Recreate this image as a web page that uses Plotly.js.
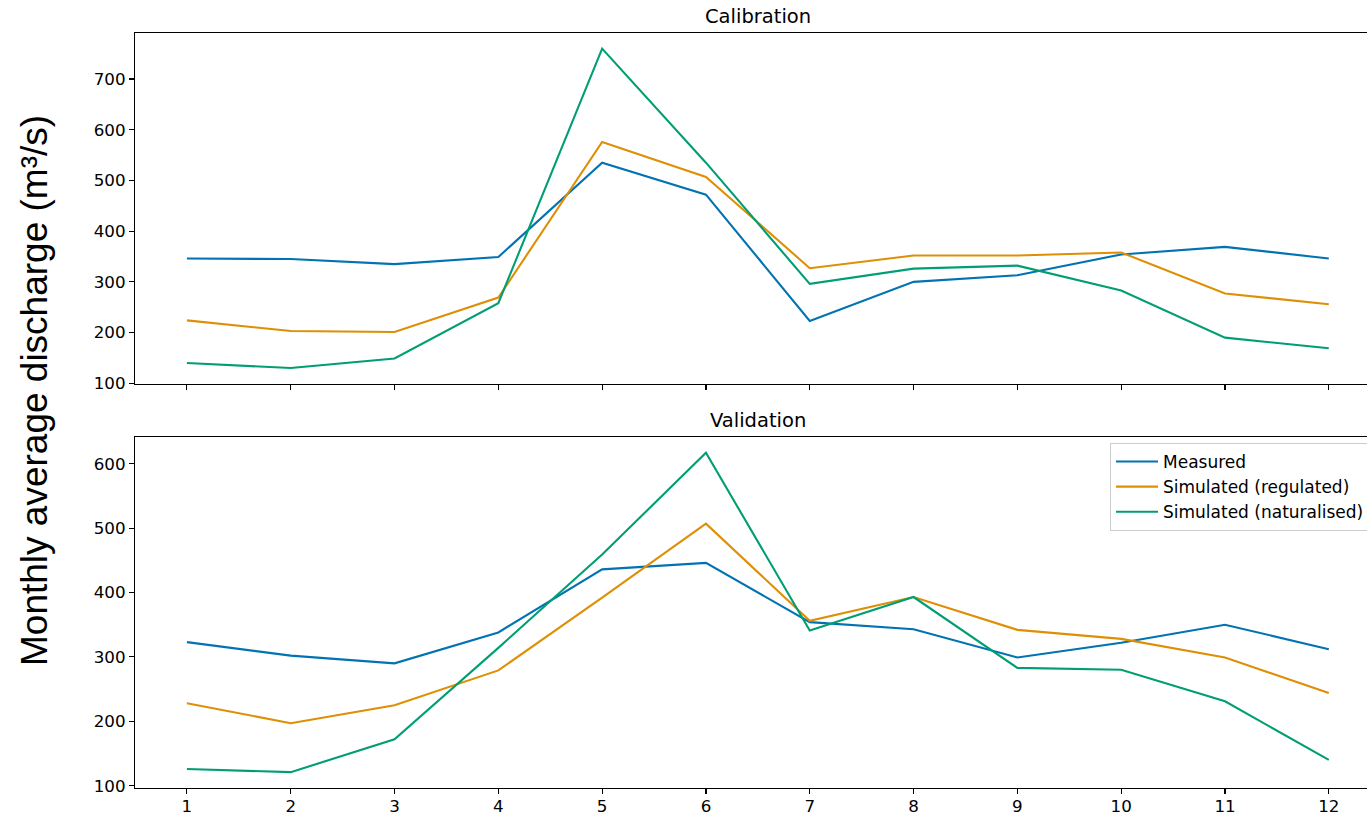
<!DOCTYPE html>
<html>
<head>
<meta charset="utf-8">
<script src="https://cdn.plot.ly/plotly-3.0.1.min.js"></script>
<style>html,body{margin:0;padding:0;background:#fff;}#chart{width:1367px;height:816px;}</style>
</head>
<body>
<div id="chart"></div>
<script>
const months = [1, 2, 3, 4, 5, 6, 7, 8, 9, 10, 11, 12];
const seriesNames = ["Measured", "Simulated (regulated)", "Simulated (naturalised)"];
const colors = ["#0173b2", "#de8f05", "#029e73"];

const calMeasured = [346, 345, 335, 349, 535, 472, 223, 300, 313, 354, 369, 346];
const calRegulated = [224, 203, 201, 269, 576, 507, 327, 352, 352, 358, 277, 256];
const calNaturalised = [140, 130, 149, 258, 760, 535, 296, 326, 332, 283, 190, 169];

const valMeasured = [323, 302, 290, 338, 436, 446, 354, 343, 299, 322, 350, 312];
const valRegulated = [228, 197, 225, 279, 392, 507, 356, 393, 342, 328, 299, 244];
const valNaturalised = [126, 121, 172, 314, 459, 617, 341, 393, 283, 280, 231, 140];

const calSeries = [calMeasured, calRegulated, calNaturalised];
const valSeries = [valMeasured, valRegulated, valNaturalised];

const traces = [];
calSeries.forEach((s, i) => traces.push({
  x: months, y: s, type: 'scatter', mode: 'lines', name: seriesNames[i],
  line: {color: colors[i], width: 2.1}, xaxis: 'x', yaxis: 'y', showlegend: false
}));
valSeries.forEach((s, i) => traces.push({
  x: months, y: s, type: 'scatter', mode: 'lines', name: seriesNames[i],
  line: {color: colors[i], width: 2.1}, xaxis: 'x2', yaxis: 'y2', showlegend: true
}));

const tickFont = {family: 'DejaVu Sans', size: 16.7, color: '#000'};
const axCommon = {
  showgrid: false, zeroline: false, showline: true, linecolor: '#000', linewidth: 1.1,
  ticks: 'outside', ticklen: 5, tickwidth: 1.1, tickcolor: '#000', tickfont: tickFont
};

const layout = {
  width: 1367, height: 816,
  margin: {l: 135, r: 0, t: 33, b: 28, autoexpand: false},
  paper_bgcolor: '#fff', plot_bgcolor: '#fff',
  showlegend: true,
  xaxis: Object.assign({}, axCommon, {domain: [0, 1], range: [0.5, 12.368], tickvals: months, showticklabels: false, mirror: true, anchor: 'y'}),
  yaxis: Object.assign({}, axCommon, {domain: [0.5351, 1], range: [98.6, 790.7], tickvals: [100, 200, 300, 400, 500, 600, 700], anchor: 'x'}),
  xaxis2: Object.assign({}, axCommon, {domain: [0, 1], range: [0.5, 12.368], tickvals: months, ticktext: months.map(String), mirror: true, anchor: 'y2', matches: 'x', ticklabelstandoff: -2}),
  yaxis2: Object.assign({}, axCommon, {domain: [0, 0.4649], range: [96.4, 641.5], tickvals: [100, 200, 300, 400, 500, 600], anchor: 'x2'}),
  legend: {
    x: (1110 - 135) / 1232, xanchor: 'left', y: 1 - (443 - 33) / 755, yanchor: 'top',
    bgcolor: 'rgba(255,255,255,0.8)', bordercolor: '#cccccc', borderwidth: 1,
    font: {family: 'DejaVu Sans', size: 17, color: '#000'}, itemwidth: 42
  },
  annotations: [
    {text: 'Calibration', xref: 'x', x: 6.5, yref: 'paper', y: 1, yanchor: 'bottom', xanchor: 'center', yshift: 3, showarrow: false, font: {family: 'DejaVu Sans', size: 19.5, color: '#000'}},
    {text: 'Validation', xref: 'x', x: 6.5, yref: 'paper', y: 0.4649, yanchor: 'bottom', xanchor: 'center', yshift: 3, showarrow: false, font: {family: 'DejaVu Sans', size: 19.5, color: '#000'}},
    {text: 'Monthly average discharge (m³/s)', xref: 'paper', x: (34 - 135) / 1232, xanchor: 'center', yref: 'paper', y: (788 - 391) / 755, yanchor: 'middle', textangle: -90, showarrow: false, font: {family: 'Liberation Sans', size: 37, color: '#000'}}
  ]
};

Plotly.newPlot('chart', traces, layout, {staticPlot: true, displayModeBar: false});
</script>
</body>
</html>
